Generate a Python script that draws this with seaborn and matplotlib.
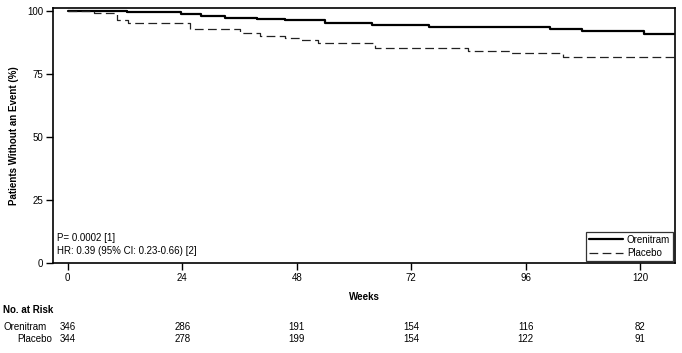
import numpy as np
import pandas as pd
import matplotlib
matplotlib.use("Agg")
import matplotlib.pyplot as plt
import seaborn as sns

# ---- data ----
oren_weeks = [0, 12.4, 23.7, 28, 33, 39.6, 45.5, 53.9, 63.7, 75.7, 101, 107.8, 120.8, 127]
oren_surv = [100, 99.5, 98.7, 98.1, 97.3, 96.8, 96.4, 95.2, 94.4, 93.8, 92.9, 92.1, 90.9, 90.9]

plac_weeks = [0, 5.5, 10.3, 12.6, 19.3, 25.6, 36.1, 40.3, 45.5, 48.6, 52.4, 64.4, 83.9, 92.7, 103.8, 127]
plac_surv = [100, 99.1, 96.4, 95.4, 95.1, 92.7, 91.2, 90.1, 89.4, 88.5, 87.4, 85.3, 84.2, 83.3, 81.9, 81.9]

x_ticks = [0, 24, 48, 72, 96, 120]
y_ticks = [0, 25, 50, 75, 100]
risk_oren = [346, 286, 191, 154, 116, 82]
risk_plac = [344, 278, 199, 154, 122, 91]

sns.set_style("white")
plt.rcParams['font.family'] = ['Liberation Sans', 'DejaVu Sans']
for k in ["text.color", "axes.labelcolor", "xtick.color", "ytick.color", "axes.edgecolor"]:
    plt.rcParams[k] = "black"
FS = 7

fig = plt.figure(figsize=(6.82, 3.53), dpi=100)
ax = fig.add_axes([53/682, 1-263/353, (675-53)/682, (263-8)/353])

df_o = pd.DataFrame({"Weeks": oren_weeks, "Surv": oren_surv})
df_p = pd.DataFrame({"Weeks": plac_weeks, "Surv": plac_surv})

sns.lineplot(data=df_o, x="Weeks", y="Surv", ax=ax, color="black", linewidth=1.6,
             drawstyle="steps-post", estimator=None, label="Orenitram")
sns.lineplot(data=df_p, x="Weeks", y="Surv", ax=ax, color="#222222", linewidth=0.9,
             drawstyle="steps-post", estimator=None, label="Placebo", dashes=False)
ax.lines[-1].set_dashes([7, 3.5])

ax.set_xlim(-3.1, 127.3)
ax.set_ylim(0, 101.2)
ax.set_xticks(x_ticks)
ax.set_yticks(y_ticks)
ax.tick_params(axis="both", which="major", bottom=True, left=True, top=False, right=False,
               direction="out", length=5, width=1, labelsize=FS, color="black",
               labelcolor="black")
ax.tick_params(axis="x", pad=2.5)
ax.tick_params(axis="y", pad=2)
for s in ax.spines.values():
    s.set_color("black")
    s.set_linewidth(1.2)

ax.set_xlabel("Weeks", fontsize=FS, fontweight="bold", labelpad=6)
ax.set_ylabel("Patients Without an Event (%)", fontsize=FS, fontweight="bold", labelpad=6)

ax.text(0.007, 0.098, "P= 0.0002 [1]", transform=ax.transAxes, fontsize=FS, va="center")
ax.text(0.007, 0.047, "HR: 0.39 (95% CI: 0.23-0.66) [2]", transform=ax.transAxes, fontsize=FS, va="center")

leg = ax.legend(loc="lower right", fontsize=FS, frameon=True, fancybox=False, edgecolor="black",
                handlelength=3.5, borderpad=0.3, labelspacing=0.35, handletextpad=0.4,
                borderaxespad=0.2)
leg.get_frame().set_linewidth(0.9)
for t in leg.get_texts():
    t.set_color("black")

# number at risk table
fig.text(3/682, 1-310/353, "No. at Risk", fontsize=FS, fontweight="bold", va="center", ha="left")
fig.text(3/682, 1-327/353, "Orenitram", fontsize=FS, va="center", ha="left")
fig.text(52/682, 1-339/353, "Placebo", fontsize=FS, va="center", ha="right")
for xt, ro, rp in zip(x_ticks, risk_oren, risk_plac):
    xf = fig.transFigure.inverted().transform(ax.transData.transform((xt, 0)))[0]
    fig.text(xf, 1-327/353, str(ro), fontsize=FS, va="center", ha="center")
    fig.text(xf, 1-339/353, str(rp), fontsize=FS, va="center", ha="center")

fig.savefig("out.png", dpi=100)
